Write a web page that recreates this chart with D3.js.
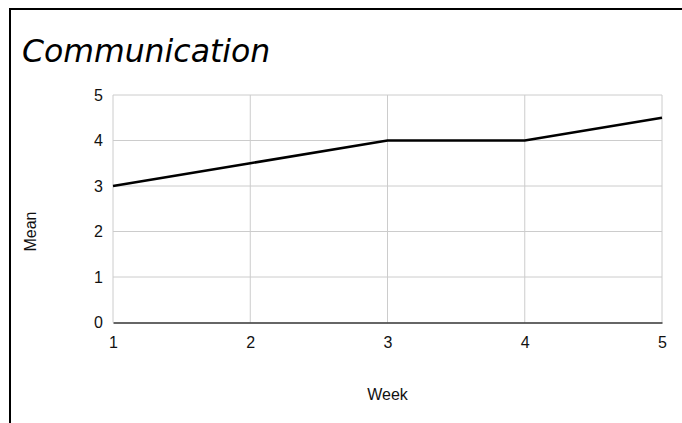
<!DOCTYPE html>
<html>
<head>
<meta charset="utf-8">
<script src="https://cdn.jsdelivr.net/npm/d3@7"></script>
<style>
  body { margin: 0; background: #fff; }
  svg { display: block; }
</style>
</head>
<body>
<div id="chart"></div>
<script>
const WIDTH = 682;
const HEIGHT = 423;
const MARGINS = {left: 113, right: 20, top: 95, bottom: 100};

const weeks = [1, 2, 3, 4, 5];
const means = [3, 3.5, 4, 4, 4.5];
const yTicks = [0, 1, 2, 3, 4, 5];

const X_SCALE = d3.scaleLinear().domain([1, 5]).range([0, 549]);
const Y_SCALE = d3.scaleLinear().domain([0, 5]).range([227.5, 0]);

const FONT = 'Liberation Sans, Arial, sans-serif';

const svg = d3.select('#chart')
  .append('svg')
    .attr('width', WIDTH)
    .attr('height', HEIGHT);

// frame lines (top + left)
svg.append('line')
  .attr('x1', 9).attr('x2', WIDTH).attr('y1', 9).attr('y2', 9)
  .attr('stroke', '#000').attr('stroke-width', 2);
svg.append('line')
  .attr('x1', 10).attr('x2', 10).attr('y1', 8).attr('y2', HEIGHT)
  .attr('stroke', '#000').attr('stroke-width', 2);

svg.append('text')
  .attr('x', 22).attr('y', 62)
  .attr('font-family', 'DejaVu Sans')
  .attr('font-style', 'italic')
  .attr('font-size', 31.5)
  .attr('fill', '#000')
  .text('Communication');

const g = svg.append('g')
  .attr('transform', `translate(${MARGINS.left},${MARGINS.top})`);

// grid
g.selectAll('.hgrid')
  .data(yTicks.slice(1))
  .enter().append('line')
    .attr('x1', 0).attr('x2', X_SCALE(5))
    .attr('y1', d => Y_SCALE(d)).attr('y2', d => Y_SCALE(d))
    .attr('stroke', '#cccccc').attr('stroke-width', 1);

g.selectAll('.vgrid')
  .data(weeks)
  .enter().append('line')
    .attr('x1', d => X_SCALE(d)).attr('x2', d => X_SCALE(d))
    .attr('y1', Y_SCALE(5)).attr('y2', Y_SCALE(0))
    .attr('stroke', '#cccccc').attr('stroke-width', 1);

// axes
const yAxis = g.append('g')
  .call(d3.axisLeft(Y_SCALE).tickValues(yTicks).tickSize(0).tickPadding(10).tickFormat(d3.format('d')));
yAxis.select('.domain').remove();
yAxis.attr('font-size', null).attr('font-family', null);
yAxis.selectAll('text')
  .style('font-family', FONT)
  .style('font-size', '16px').attr('fill', '#111');

const xAxis = g.append('g')
  .attr('transform', `translate(0,${Y_SCALE(0)})`)
  .call(d3.axisBottom(X_SCALE).tickValues(weeks).tickSize(0).tickPadding(14).tickFormat(d3.format('d')));
xAxis.select('.domain').attr('stroke', '#333').attr('stroke-width', 1.5);
xAxis.attr('font-size', null).attr('font-family', null);
xAxis.selectAll('text')
  .style('font-family', FONT)
  .style('font-size', '16px').attr('fill', '#111');

// line
g.append('path')
  .datum(weeks.map((w, i) => [w, means[i]]))
  .attr('fill', 'none')
  .attr('stroke', '#000')
  .attr('stroke-width', 2.5)
  .attr('d', d3.line().x(d => X_SCALE(d[0])).y(d => Y_SCALE(d[1])));

// axis titles
svg.append('text')
  .attr('x', MARGINS.left + X_SCALE(3)).attr('y', 400)
  .attr('text-anchor', 'middle')
  .style('font-family', FONT)
  .style('font-size', '16px').attr('fill', '#111')
  .text('Week');

svg.append('text')
  .attr('transform', `translate(36,${MARGINS.top + Y_SCALE(2)}) rotate(-90)`)
  .attr('text-anchor', 'middle')
  .style('font-family', FONT)
  .style('font-size', '16px').attr('fill', '#111')
  .text('Mean');
</script>
</body>
</html>
